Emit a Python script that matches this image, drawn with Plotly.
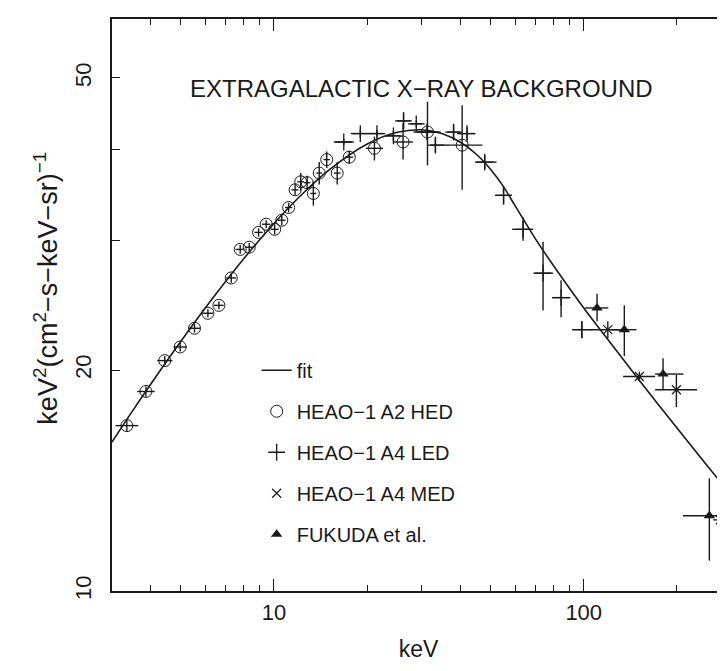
import numpy as np
import plotly.graph_objects as go

# ---------------- data ----------------
fit_e = [3, 3.5, 4, 5, 6, 7, 8, 10, 12, 15, 20, 25, 30, 35, 40, 45, 50, 55, 60,
         70, 80, 100, 120, 150, 200, 250, 300]
fit_f = [15.96, 17.61, 19.13, 21.87, 24.30, 26.45, 28.38, 31.68, 34.34, 37.41, 40.64,
         42.16, 42.50, 41.98, 40.87, 39.36, 37.56, 35.58, 33.5,
         30.14, 27.72, 24.3, 21.97, 19.45, 16.67, 14.83, 13.49]

hed_e = [3.35, 3.86, 4.44, 4.98, 5.54, 6.12, 6.64, 7.28, 7.78, 8.32, 8.92, 9.44, 10.05,
         10.6, 11.15, 11.7, 12.2, 12.8, 13.4, 14.0, 14.8, 16.0, 17.5, 21.1, 26.1, 31.3, 40.5]
hed_f = [16.8, 18.7, 20.6, 21.5, 22.8, 23.9, 24.5, 26.7, 29.2, 29.4, 30.8, 31.6, 31.1,
         32.0, 33.3, 35.2, 36.1, 36.0, 34.8, 37.1, 38.7, 37.1, 39.0, 40.1, 40.9, 42.2, 40.5]
hed_elo = [3.08, 3.62, 4.20, 4.75, 5.30, 5.88, 6.40, 7.02, 7.52, 8.05, 8.65, 9.15, 9.75,
           10.3, 10.85, 11.4, 11.9, 12.5, 13.1, 13.7, 14.45, 15.6, 17.0, 19.8, 24.2, 29.0, 37.1]
hed_ehi = [3.65, 4.12, 4.70, 5.22, 5.78, 6.36, 6.88, 7.54, 8.04, 8.60, 9.20, 9.73, 10.35,
           10.9, 11.45, 12.0, 12.5, 13.1, 13.7, 14.3, 15.15, 16.4, 18.0, 22.5, 28.1, 33.8, 47.1]
hed_flo = [16.5, 18.4, 20.3, 21.2, 22.5, 23.6, 24.2, 26.3, 28.8, 29.0, 30.4, 31.2, 30.6,
           31.5, 32.8, 34.6, 35.1, 35.2, 33.5, 35.8, 37.7, 35.8, 38.2, 38.6, 38.7, 38.0, 35.2]
hed_fhi = [17.1, 19.0, 20.9, 21.8, 23.1, 24.2, 24.8, 27.1, 29.6, 29.8, 31.2, 32.0, 31.6,
           32.5, 33.8, 35.8, 37.1, 36.8, 36.1, 38.4, 39.7, 38.4, 39.8, 41.6, 43.3, 46.4, 45.9]

led_e = [16.8, 19.0, 21.5, 24.3, 26.2, 28.8, 31.2, 33.2, 38.0, 42.0, 47.9, 55.1, 63.7,
         73.9, 84.5, 98.6]
led_f = [40.9, 42.0, 42.0, 41.7, 43.7, 43.3, 42.2, 40.5, 42.2, 42.0, 38.4, 34.6, 31.1,
         27.1, 25.1, 22.7]
led_elo = [15.6, 17.7, 20.4, 23.0, 24.9, 27.5, 28.2, 31.9, 36.2, 39.0, 44.6, 51.8, 58.7,
           68.8, 79.0, 91.7]
led_ehi = [18.1, 20.4, 22.6, 25.6, 27.6, 30.1, 34.5, 37.1, 39.9, 44.6, 52.3, 58.6, 68.7,
           79.6, 90.5, 106.4]
led_flo = [40.5, 41.4, 41.5, 41.0, 42.6, 42.8, 41.6, 39.6, 41.3, 41.2, 37.6, 33.6, 30.0,
           24.1, 23.6, 22.1]
led_fhi = [41.3, 42.6, 42.5, 42.4, 44.9, 43.8, 42.8, 41.4, 43.1, 42.8, 39.2, 35.6, 32.3,
           29.9, 26.5, 23.3]

med_e = [119.6, 151.2, 199.1, 276.0]
med_f = [22.7, 19.6, 18.8, 12.5]
med_elo = [105.0, 134.0, 170.0, 262.0]
med_ehi = [135.0, 170.0, 232.0, 300.0]
med_flo = [22.1, 19.3, 17.8, 11.8]
med_fhi = [23.3, 19.9, 19.7, 13.3]

fuk_e = [110.4, 135.2, 180.3, 254.4]
fuk_f = [24.3, 22.7, 19.75, 12.66]
fuk_elo = [101.0, 122.0, 170.0, 209.0]
fuk_ehi = [120.0, 148.0, 210.0, 300.0]
fuk_flo = [23.3, 20.9, 18.8, 11.0]
fuk_fhi = [25.4, 24.5, 20.75, 14.24]

x_major = [10, 100]
x_minor = [4, 5, 6, 7, 8, 9, 20, 30, 40, 50, 60, 70, 80, 90, 200]
y_major = [10, 20, 50]
y_minor = [30, 40]

INK = "#1a1a1a"
FONT = "Liberation Sans"


def errs(v, lo, hi):
    v = np.asarray(v, float)
    return dict(type="data", symmetric=False,
                array=list(np.asarray(hi) - v), arrayminus=list(v - np.asarray(lo)),
                color=INK, thickness=1.4, width=0)


fig = go.Figure()

fig.add_trace(go.Scatter(x=fit_e, y=fit_f, mode="lines", name="fit",
                         line=dict(color=INK, width=1.6, shape="spline"),
                         legendgroup="a"))

fig.add_trace(go.Scatter(x=hed_e, y=hed_f, mode="markers", name="HEAO−1 A2 HED",
                         marker=dict(symbol="circle-open", size=12, color=INK,
                                     line=dict(width=1, color=INK)),
                         error_x=errs(hed_e, hed_elo, hed_ehi),
                         error_y=errs(hed_f, hed_flo, hed_fhi),
                         legendgroup="b"))

fig.add_trace(go.Scatter(x=led_e, y=led_f, mode="markers", name="HEAO−1 A4 LED",
                         marker=dict(symbol="cross-thin-open", size=12, color=INK,
                                     line=dict(width=1.3, color=INK)),
                         error_x=errs(led_e, led_elo, led_ehi),
                         error_y=errs(led_f, led_flo, led_fhi),
                         legendgroup="c"))

fig.add_trace(go.Scatter(x=med_e, y=med_f, mode="markers", name="HEAO−1 A4 MED",
                         marker=dict(symbol="x-thin-open", size=9, color=INK,
                                     line=dict(width=1.2, color=INK)),
                         error_x=errs(med_e, med_elo, med_ehi),
                         error_y=errs(med_f, med_flo, med_fhi),
                         legendgroup="d"))

fig.add_trace(go.Scatter(x=fuk_e, y=fuk_f, mode="markers", name="FUKUDA et al.",
                         marker=dict(symbol="triangle-up", size=10, color=INK),
                         error_x=errs(fuk_e, fuk_elo, fuk_ehi),
                         error_y=errs(fuk_f, fuk_flo, fuk_fhi),
                         legendgroup="e"))

# invisible helper on the right-hand axis so its tick marks show
fig.add_trace(go.Scatter(x=[fit_e[0]], y=[fit_f[0]], yaxis="y2", mode="markers",
                         marker=dict(opacity=0), showlegend=False, hoverinfo="skip"))

fig.update_layout(
    width=717, height=655,
    margin=dict(l=104, r=0, t=11, b=72, autoexpand=False),
    paper_bgcolor="white", plot_bgcolor="white",
    font=dict(family=FONT, color=INK, size=20),
    xaxis=dict(type="log", range=[np.log10(3), 2.456], automargin=False,
               tickmode="array", tickvals=x_major, ticktext=[str(v) for v in x_major],
               ticks="inside", ticklen=12, tickwidth=1.3, tickcolor=INK,
               minor=dict(tickmode="array", tickvals=x_minor, ticks="inside",
                          ticklen=6, tickwidth=1.3, tickcolor=INK),
               showline=True, linecolor=INK, linewidth=1.5, mirror="ticks",
               showgrid=False, zeroline=False, ticklabelstandoff=1,
               tickfont=dict(size=22, family=FONT, color=INK),
               title=dict(text="keV", font=dict(size=23, family=FONT, color=INK),
                          standoff=17)),
    yaxis=dict(type="log", range=[1, 1.7793], automargin=False,
               tickmode="array", tickvals=y_major, ticktext=[str(v) for v in y_major],
               ticks="inside", ticklen=8, tickwidth=1.3, tickcolor=INK,
               minor=dict(tickmode="array", tickvals=y_minor, ticks="inside",
                          ticklen=8, tickwidth=1.3, tickcolor=INK),
               showline=True, linecolor=INK, linewidth=1.5, mirror=False,
               showgrid=False, zeroline=False, tickangle=-90, ticklabelstandoff=10,
               tickfont=dict(size=22, family=FONT, color=INK)),
    yaxis2=dict(type="log", range=[1, 1.7793], overlaying="y", side="right",
                automargin=False,
                tickmode="array", tickvals=y_major + y_minor,
                ticks="inside", ticklen=7, tickwidth=1.3, tickcolor=INK,
                showticklabels=False, showline=False, showgrid=False, zeroline=False),
    showlegend=True,
    legend=dict(x=0.236, y=0.42, xanchor="left", yanchor="top",
                bgcolor="rgba(0,0,0,0)", tracegroupgap=12,
                font=dict(size=20, family=FONT, color=INK), itemwidth=30),
    annotations=[
        dict(text="EXTRAGALACTIC X−RAY BACKGROUND", xref="paper", yref="paper",
             x=0.505, y=0.906, showarrow=False,
             font=dict(size=24, family=FONT, color=INK)),
        dict(text="keV<sup>2</sup>(cm<sup>2</sup>−s−keV−sr)<sup>−1</sup>",
             xref="paper", yref="paper", x=-0.108, y=0.53, textangle=-90,
             xanchor="center", yanchor="middle",
             showarrow=False, font=dict(size=27, family=FONT, color=INK)),
    ],
)

fig.write_html("out.html")
